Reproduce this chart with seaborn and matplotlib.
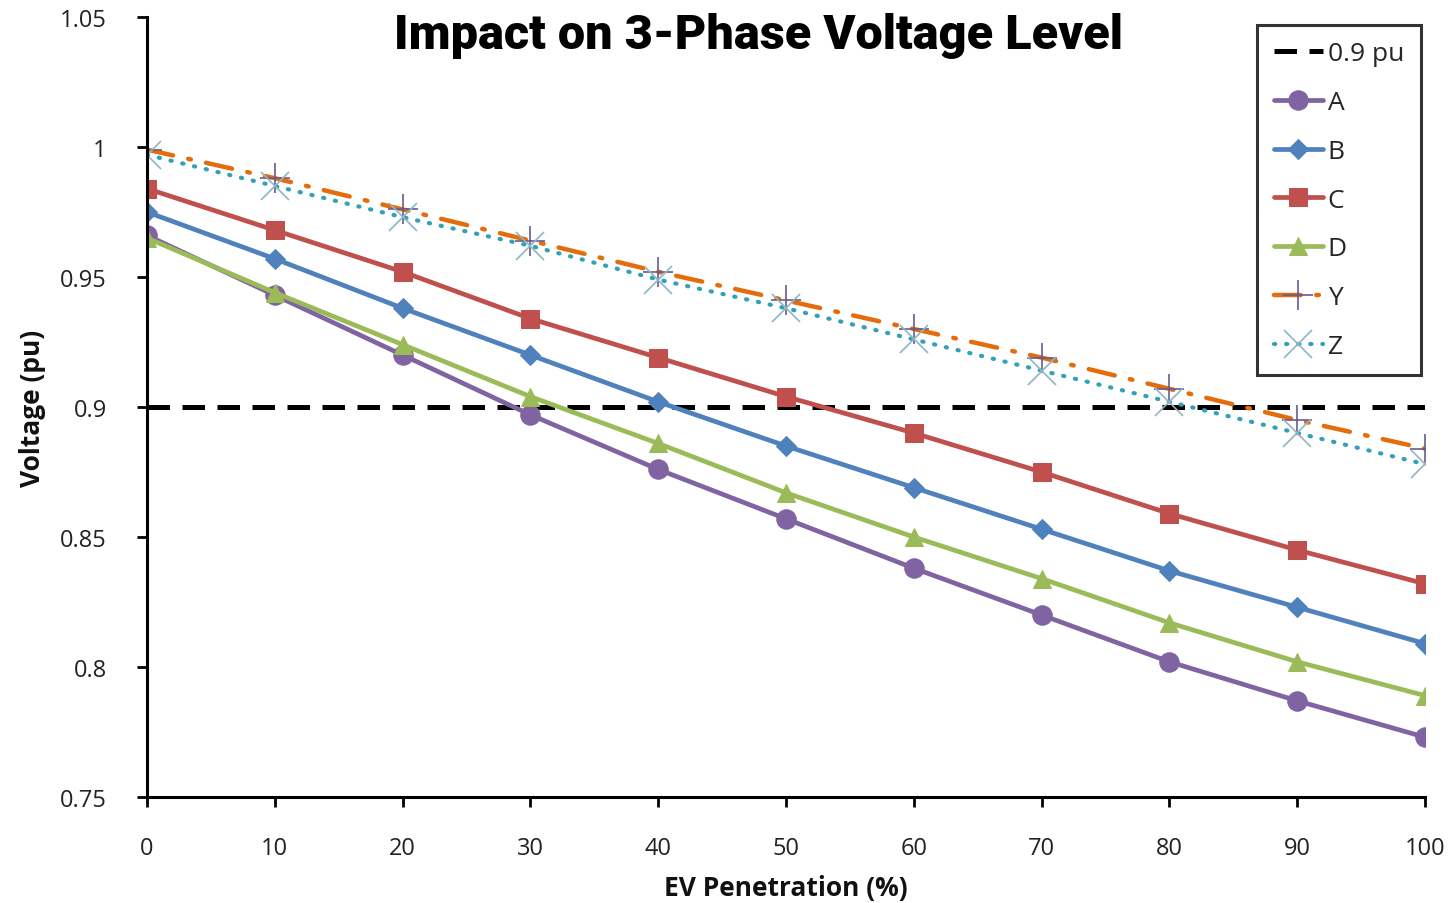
import numpy as np
import pandas as pd
import matplotlib
matplotlib.use("Agg")
import matplotlib.pyplot as plt
import seaborn as sns

penetration = [0, 10, 20, 30, 40, 50, 60, 70, 80, 90, 100]
series_A = [0.966, 0.943, 0.920, 0.897, 0.876, 0.857, 0.838, 0.820, 0.802, 0.787, 0.773]
series_B = [0.975, 0.957, 0.938, 0.920, 0.902, 0.885, 0.869, 0.853, 0.837, 0.823, 0.809]
series_C = [0.984, 0.968, 0.952, 0.934, 0.919, 0.904, 0.890, 0.875, 0.859, 0.845, 0.832]
series_D = [0.965, 0.944, 0.924, 0.904, 0.886, 0.867, 0.850, 0.834, 0.817, 0.802, 0.789]
series_Y = [0.999, 0.988, 0.976, 0.964, 0.952, 0.941, 0.930, 0.919, 0.907, 0.895, 0.884]
series_Z = [0.997, 0.985, 0.973, 0.962, 0.949, 0.938, 0.926, 0.914, 0.902, 0.890, 0.878]
threshold = 0.9
y_ticks = [0.75, 0.8, 0.85, 0.9, 0.95, 1.0, 1.05]
y_tick_labels = ["0.75", "0.8", "0.85", "0.9", "0.95", "1", "1.05"]

sns.set_theme(style="white")
plt.rcParams['font.family'] = ['Open Sans', 'DejaVu Sans']

fig = plt.figure(figsize=(14.55, 9.04), dpi=100)
ax = fig.add_axes([147/1455, 1-798/904, (1425-147)/1455, (798-18)/904])

# threshold line
thr_df = pd.DataFrame({"x": penetration, "y": [threshold]*len(penetration)})
sns.lineplot(data=thr_df, x="x", y="y", ax=ax, color="black", linewidth=3.6,
             label="0.9 pu", dashes=False)
ax.lines[-1].set_dashes([4.5, 2.5])

styles = [
    ("A", series_A, "#8064A2", "o", 14),
    ("B", series_B, "#4F81BD", "D", 10.5),
    ("C", series_C, "#C0504D", "s", 13),
    ("D", series_D, "#9BBB59", "^", 13),
]
for name, vals, col, mk, ms in styles:
    df = pd.DataFrame({"x": penetration, "y": vals})
    sns.lineplot(data=df, x="x", y="y", ax=ax, color=col, linewidth=3.4,
                 marker=mk, markersize=ms, markeredgecolor=col, markerfacecolor=col,
                 label=name)

dfY = pd.DataFrame({"x": penetration, "y": series_Y})
sns.lineplot(data=dfY, x="x", y="y", ax=ax, color="#E46C0A", linewidth=3.2,
             marker="+", markersize=22, markeredgecolor="#6A5A8C", markeredgewidth=1.2,
             label="Y")
lY = ax.lines[-1]
lY.set_dashes([6, 3.5, 0.6, 3.5])
lY.set_dash_capstyle("round")

dfZ = pd.DataFrame({"x": penetration, "y": series_Z})
sns.lineplot(data=dfZ, x="x", y="y", ax=ax, color="#31A0B8", linewidth=3.0,
             marker="x", markersize=20, markeredgecolor="#8FB6C6", markeredgewidth=1.2,
             label="Z")
lZ = ax.lines[-1]
lZ.set_dashes([0.3, 2.6])
lZ.set_dash_capstyle("round")

ax.set_xlim(0, 100)
ax.set_ylim(0.75, 1.05)
ax.set_xticks(penetration)
ax.set_xticklabels([str(v) for v in penetration])
ax.set_yticks(y_ticks)
ax.set_yticklabels(y_tick_labels)
for sp in ["top", "right"]:
    ax.spines[sp].set_visible(False)
for sp in ["left", "bottom"]:
    ax.spines[sp].set_color("black")
    ax.spines[sp].set_linewidth(2.2)
ax.tick_params(axis="both", which="major", direction="out", length=7, width=2,
               color="black", labelsize=17, labelcolor="#222222", bottom=True, left=True)
ax.tick_params(axis="x", pad=21)
ax.tick_params(axis="y", pad=22)
ax.set_xlabel("EV Penetration (%)", fontsize=19, fontweight="bold", labelpad=10, color="#111111")
ax.set_ylabel("Voltage (pu)", fontsize=19, fontweight="bold", labelpad=10, color="#111111")
ax.grid(False)

fig.text(0.521, 0.960, "Impact on 3-Phase Voltage Level", ha="center", va="center",
         fontsize=35, fontweight="black", color="black",
         family=["Roboto", "DejaVu Sans"])

leg = ax.legend(loc="upper right", bbox_to_anchor=(0.9965, 0.9897), borderaxespad=0,
                fontsize=19, frameon=True, fancybox=False, edgecolor="black",
                handlelength=1.85, labelspacing=0.9, borderpad=0.62, handletextpad=0.2)
leg.get_frame().set_linewidth(2.2)

fig.savefig("out.png", dpi=100, facecolor="white")
